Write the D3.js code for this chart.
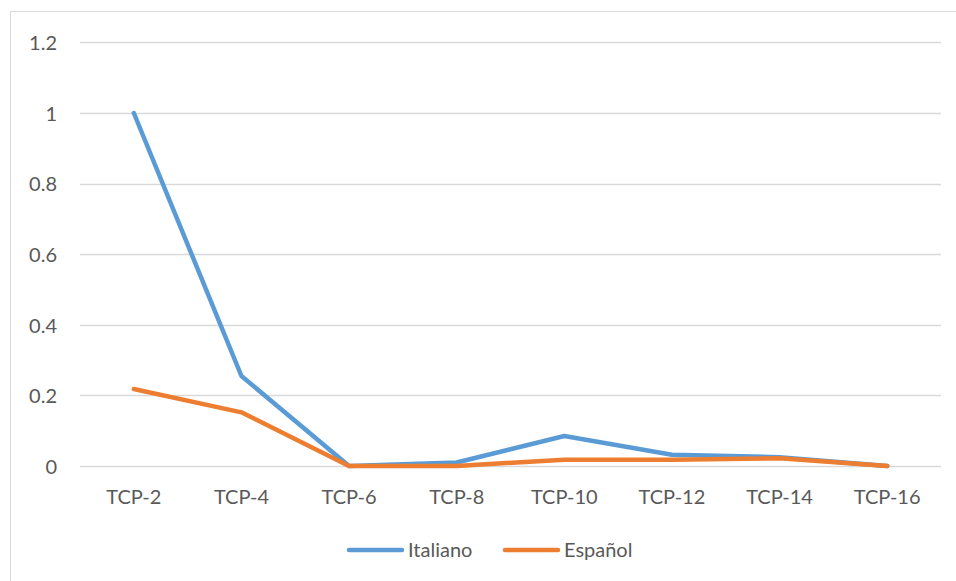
<!DOCTYPE html>
<html>
<head>
<meta charset="utf-8">
<script src="https://cdn.jsdelivr.net/npm/d3@7/dist/d3.min.js"></script>
<style>
  html, body { margin: 0; padding: 0; background: #fff; }
  svg { display: block; }
  text { font-family: Lato, "Open Sans", sans-serif; fill: #595959; }
</style>
</head>
<body>
<svg id="chart" width="956" height="581"></svg>
<script>
// Categories and series values
const categories = ["TCP-2", "TCP-4", "TCP-6", "TCP-8", "TCP-10", "TCP-12", "TCP-14", "TCP-16"];
const italiano = [1.0, 0.255, 0.0, 0.01, 0.085, 0.032, 0.025, 0.0];
const espanol  = [0.218, 0.152, 0.0, 0.0, 0.018, 0.018, 0.022, 0.0];
const yTicks = [0, 0.2, 0.4, 0.6, 0.8, 1, 1.2];
const seriesNames = ["Italiano", "Español"];
const seriesColors = ["#5B9BD5", "#ED7D31"];

const FONT = "Lato, 'Open Sans', sans-serif";
const FONT_SIZE = 20;

const svg = d3.select("#chart");

// Chart area frame
svg.append("rect")
  .attr("x", 10.5).attr("y", 11.5)
  .attr("width", 1000).attr("height", 600)
  .attr("fill", "none").attr("stroke", "#D9D9D9").attr("stroke-width", 1);

const plot = { left: 80, right: 941, top: 42.4, bottom: 466 };

const x = d3.scaleBand().domain(categories).range([plot.left, plot.right]);
const y = d3.scaleLinear().domain([0, 1.2]).range([plot.bottom, plot.top]);

// Horizontal gridlines
svg.append("g")
  .selectAll("line")
  .data(yTicks)
  .join("line")
  .attr("x1", plot.left).attr("x2", plot.right)
  .attr("y1", d => Math.round(y(d)) + 0.5).attr("y2", d => Math.round(y(d)) + 0.5)
  .attr("stroke", "#D9D9D9").attr("stroke-width", 1.3);

// Y axis labels
const yAxis = d3.axisLeft(y).tickValues(yTicks).tickSize(0).tickPadding(0)
  .tickFormat(d => String(d));
svg.append("g")
  .attr("transform", `translate(${57},0)`)
  .call(yAxis)
  .call(g => g.select(".domain").remove())
  .call(g => g.selectAll("text")
    .attr("font-size", FONT_SIZE)
    .attr("dy", "0.36em")
    .style("font-family", FONT)
    .attr("fill", "#595959"));

// X axis labels
const xAxis = d3.axisBottom(x).tickSize(0).tickPadding(0);
svg.append("g")
  .attr("transform", `translate(0,${plot.bottom + 31})`)
  .call(xAxis)
  .call(g => g.select(".domain").remove())
  .call(g => g.selectAll("text")
    .attr("font-size", FONT_SIZE)
    .attr("dy", "0.36em")
    .style("font-family", FONT)
    .attr("fill", "#595959"));

// Series lines
const line = d3.line()
  .x((d, i) => x(categories[i]) + x.bandwidth() / 2)
  .y(d => y(d));

[italiano, espanol].forEach((vals, k) => {
  svg.append("path")
    .datum(vals)
    .attr("d", line)
    .attr("fill", "none")
    .attr("stroke", seriesColors[k])
    .attr("stroke-width", 4.5)
    .attr("stroke-linecap", "round")
    .attr("stroke-linejoin", "round");
});

// Legend
const legend = svg.append("g").attr("transform", "translate(0,550)");
const legendX = [349, 505];
seriesNames.forEach((name, k) => {
  const g = legend.append("g").attr("transform", `translate(${legendX[k]},0)`);
  g.append("line")
    .attr("x1", 0).attr("x2", 53).attr("y1", 0).attr("y2", 0)
    .attr("stroke", seriesColors[k]).attr("stroke-width", 4.5)
    .attr("stroke-linecap", "round");
  g.append("text")
    .attr("x", 59).attr("y", 0).attr("dy", "0.36em")
    .attr("font-size", FONT_SIZE)
    .text(name);
});
</script>
</body>
</html>
